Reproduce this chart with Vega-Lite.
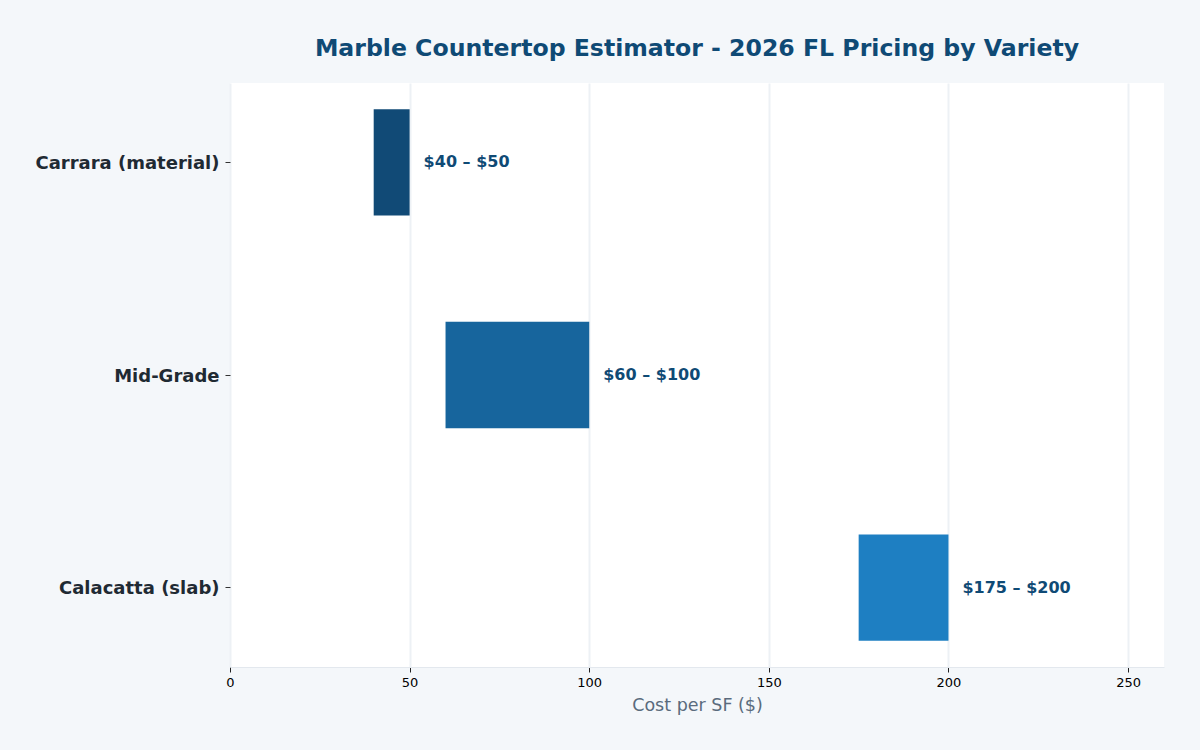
{
  "$schema": "https://vega.github.io/schema/vega-lite/v6.json",
  "width": 934,
  "height": 584,
  "autosize": "none",
  "padding": {"left": 230, "top": 83, "right": 36, "bottom": 83},
  "background": "#f4f7fa",
  "title": {
    "text": "Marble Countertop Estimator - 2026 FL Pricing by Variety",
    "font": "DejaVu Sans",
    "fontSize": 23.6,
    "fontWeight": "bold",
    "color": "#0f4a75",
    "anchor": "middle",
    "offset": 22
  },
  "config": {
    "view": {"fill": "white", "stroke": null},
    "font": "DejaVu Sans"
  },
  "data": {
    "values": [
      {"variety": "Carrara (material)", "low": 40, "high": 50, "label": "$40 – $50"},
      {"variety": "Mid-Grade", "low": 60, "high": 100, "label": "$60 – $100"},
      {"variety": "Calacatta (slab)", "low": 175, "high": 200, "label": "$175 – $200"}
    ]
  },
  "encoding": {
    "y": {
      "field": "variety",
      "type": "nominal",
      "sort": ["Carrara (material)", "Mid-Grade", "Calacatta (slab)"],
      "scale": {"paddingInner": 0.5, "paddingOuter": 0.124},
      "axis": {
        "title": null,
        "domain": false,
        "labelFont": "DejaVu Sans",
        "labelFontSize": 18,
        "labelFontWeight": "bold",
        "labelColor": "#1f2a33",
        "labelLimit": 400,
        "labelOffset": 1.5,
        "tickColor": "#333333",
        "tickSize": 5,
        "labelPadding": 6,
        "grid": false
      }
    }
  },
  "layer": [
    {
      "mark": {"type": "bar"},
      "encoding": {
        "x": {
          "field": "low",
          "type": "quantitative",
          "scale": {"domain": [0, 260], "nice": false},
          "axis": {
            "title": "Cost per SF ($)",
            "titleFont": "DejaVu Sans",
            "titleFontSize": 17.5,
            "titleFontWeight": "normal",
            "titleColor": "#5a6b7d",
            "titlePadding": 7,
            "values": [0, 50, 100, 150, 200, 250],
            "labelFlush": false,
            "labelFont": "DejaVu Sans",
            "labelFontSize": 13,
            "labelColor": "#000000",
            "labelPadding": 4,
            "tickColor": "#222222",
            "tickSize": 5,
            "domainColor": "#e3e8ee",
            "gridColor": "#edf1f5",
            "gridWidth": 2
          }
        },
        "x2": {"field": "high"},
        "color": {
          "field": "variety",
          "type": "nominal",
          "scale": {
            "domain": ["Carrara (material)", "Mid-Grade", "Calacatta (slab)"],
            "range": ["#114a76", "#17659d", "#1e7fc2"]
          },
          "legend": null
        }
      }
    },
    {
      "mark": {
        "type": "text",
        "align": "left",
        "baseline": "middle",
        "dx": 14,
        "font": "DejaVu Sans",
        "fontSize": 16,
        "fontWeight": "bold",
        "color": "#0f4a75"
      },
      "encoding": {
        "x": {"field": "high", "type": "quantitative"},
        "text": {"field": "label"}
      }
    }
  ]
}
